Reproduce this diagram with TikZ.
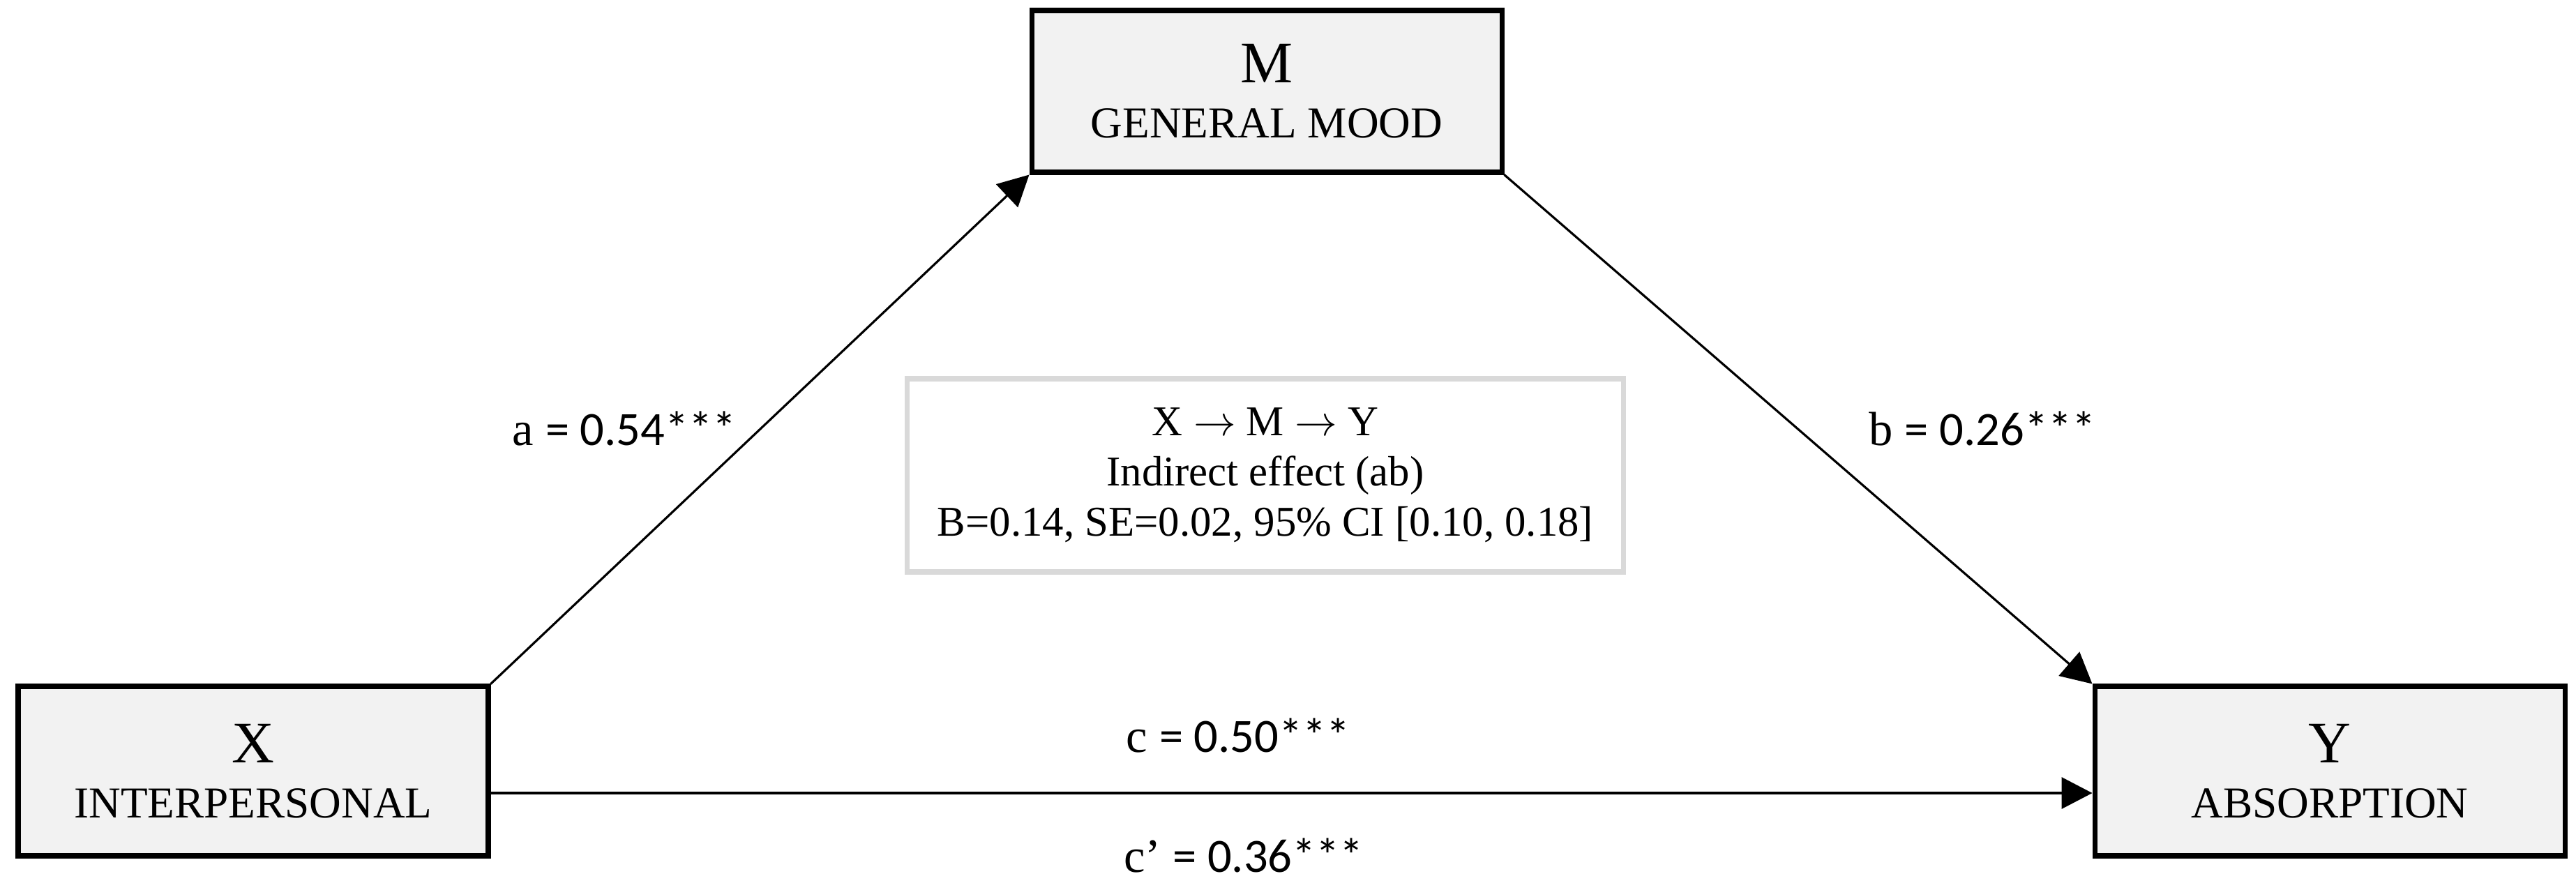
\documentclass[tikz,border=0pt]{standalone}
\usepackage{fontspec}
\setmainfont{Liberation Serif}
\newfontfamily\calibri{Carlito}
\usetikzlibrary{arrows.meta}
\definecolor{boxgray}{RGB}{242,242,242}
\definecolor{framegray}{RGB}{217,217,217}
\newcommand\bigletter[1]{{\fontsize{24}{22.5}\selectfont #1}}

\begin{document}
\begin{tikzpicture}[
  >={Triangle[length=.44cm,width=.45cm]},
  varbox/.style={draw=black,line width=2pt,fill=boxgray,minimum width=6.74cm,
    minimum height=2.43cm,align=center,inner sep=0pt,
    font=\fontsize{18}{22.5}\selectfont},
  arr/.style={->,line width=.9pt},
  coef/.style={font=\fontsize{19.5}{23}\selectfont,anchor=base,inner sep=0pt},
  indirect/.style={draw=framegray,line width=2pt,minimum width=10.27cm,
    minimum height=2.77cm,align=center,font=\fontsize{17.3}{20.5}\selectfont}
]
\useasboundingbox (0,0) rectangle (36.93,12.75);

\node[varbox,minimum height=2.32cm] (M) at (18.16,11.44) {\bigletter{M}\\GENERAL MOOD};
\node[varbox] (X) at (3.63,1.695) {\bigletter{X}\\INTERPERSONAL};
\node[varbox] (Y) at (33.40,1.695) {\bigletter{Y}\\ABSORPTION};

\node[indirect] (ab) at (18.14,5.935)
 {X $\rightarrow$ M $\rightarrow$ Y\\Indirect effect (ab)\\B=0.14, SE=0.02, 95\% CI [0.10, 0.18]};

\draw[arr] (X.north east) -- (M.south west);
\draw[arr] (M.south east) -- (Y.north west);
\draw[arr] ([yshift=-.315cm]X.east) -- ([yshift=-.315cm]Y.west);

\node[coef] (a) at (8.95,6.37) {a \calibri= 0.54***};
\node[coef] (b) at (28.42,6.37) {b \calibri= 0.26***};
\node[coef] (c) at (17.75,1.97) {c \calibri= 0.50***};
\node[coef] (cp) at (17.83,.25) {c’ \calibri= 0.36***};
\end{tikzpicture}
\end{document}
